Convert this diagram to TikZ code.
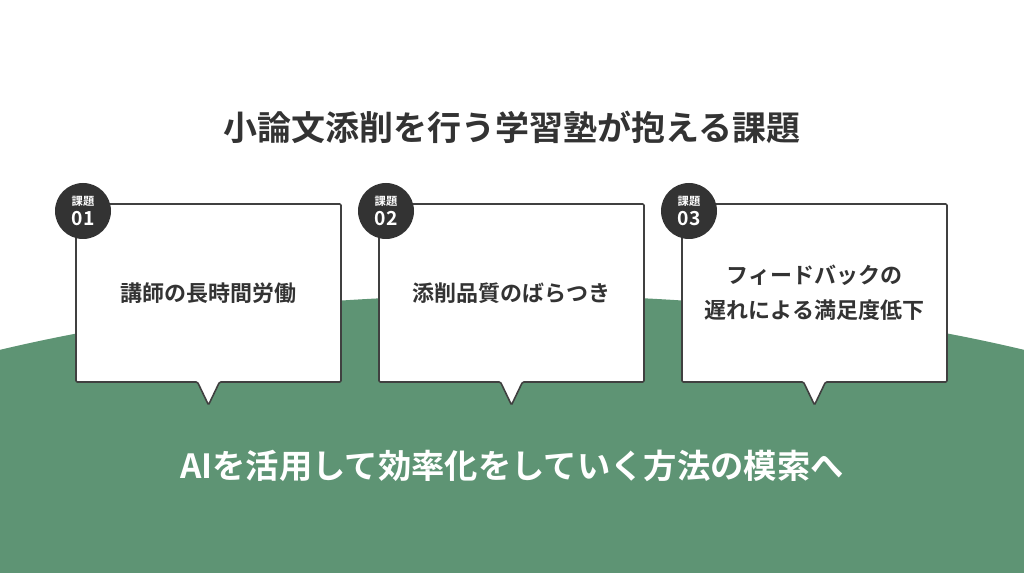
\documentclass[tikz,border=0pt]{standalone}
\usepackage{fontspec}
\setmainfont{Noto Sans CJK JP}[BoldFont={* Bold}]
\begin{document}
\begin{tikzpicture}[x=0.75pt,y=-0.75pt,
  card/.style={draw=black!75,line width=1.2pt,fill=white,rounded corners=1pt},
  badge/.style={circle,fill=black!80,minimum size=42pt,inner sep=0pt},
  cardtext/.style={align=center,font=\bfseries\fontsize{16.5}{26}\selectfont,text=black!80}]
\definecolor{grn}{HTML}{5E9474}
\useasboundingbox (0,0) rectangle (1024,573);
\fill[white] (0,0) rectangle (1024,573);
\begin{scope}
\clip (0,0) rectangle (1024,573);
\fill[grn] (512,604) ellipse [x radius=900, y radius=309];
\end{scope}
\node[font=\bfseries\fontsize{25.5}{30}\selectfont,text=black!80] (title) at (512,127) {小論文添削を行う学習塾が抱える課題};
\foreach \i/\x/\t in {1/76/講師の長時間労働,2/379/添削品質のばらつき,3/682/{フィードバックの\\遅れによる満足度低下}}{
  \pgfmathsetmacro{\m}{\x+132.5}
  \draw[card] (\x,204) -- (\x+265,204) -- (\x+265,382) -- (\m+11,382) -- (\m,405) -- (\m-11,382) -- (\x,382) -- cycle;
  \node[cardtext] (c\i) at (\m,293) {\t};
  \node[badge] (b\i) at (\x+7,211) {};
  \node[text=white,font=\bfseries\fontsize{8.5}{9}\selectfont,inner sep=0pt] (k\i) at (\x+7,201) {課題};
  \node[text=white,font=\bfseries\fontsize{14.5}{15}\selectfont,inner sep=0pt] (n\i) at (\x+7,219) {0\i};
}
\node[font=\bfseries\fontsize{25}{30}\selectfont,text=white] (bottom) at (512,466) {AIを活用して効率化をしていく方法の模索へ};
\end{tikzpicture}
\end{document}
